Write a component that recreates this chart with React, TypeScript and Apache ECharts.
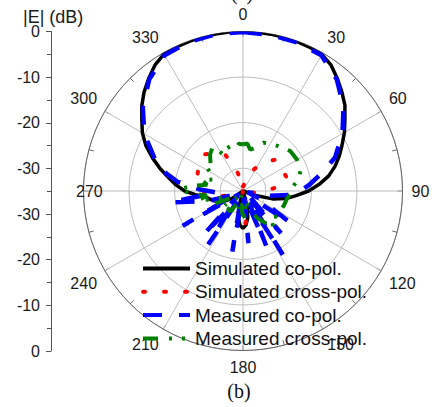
import React, { useEffect, useRef } from 'react';
import * as echarts from 'echarts';

// ---------- data (angle in degrees, |E| in dB) ----------
const simCoAngles = [0,5,10,15,20,25,30,35,40,45,50,55,60,65,70,75,80,85,90,95,100,105,110,115,120,130,140,150,160,165,170,175,180,185,190,195,200,210,220,230,235,240,245,250,255,260,265,270,275,280,285,290,295,300,305,310,315,320,325,330,335,340,345,350,355,360];
const simCoValues = [0,0,-0.05,-0.1,-0.15,-0.25,-0.4,-1.3,-2.8,-4.3,-5.8,-7.7,-9.3,-11,-12.5,-14.1,-15.9,-18.2,-20.6,-23.3,-25.4,-28.3,-32.3,-35,-35,-35,-35,-35,-35,-31.5,-29,-27.5,-26.8,-27.5,-29,-31.5,-35,-35,-35,-35,-32.5,-30.8,-29.5,-28.5,-27.7,-26.9,-24.8,-22.2,-20.3,-18.5,-16.2,-13.9,-11.5,-9.5,-7.9,-6,-4.3,-2.8,-1.3,-0.3,-0.2,-0.1,0,0,0,0];

const simCrossAngles = [0,10,17,25,30,40,46,55,65,74,82,90,98,105,115,160,168,175,181,187,194,202,240,250,260,267,275,285,294,305,314,324,334,344,352,360];
const simCrossValues = [-34,-33.5,-33.5,-30,-29,-26.5,-25.1,-25,-25.2,-24.9,-26.5,-30,-32,-34,-35,-35,-31,-28,-27.2,-28,-31,-35,-35,-32,-28.5,-26.7,-25.5,-24.5,-24.2,-23.8,-23.4,-24.8,-26.1,-30.9,-33,-34];

const measCoAngles = [0,10,20,30,40,50,60,70,78,85,90,95,100,105,114,124,131,138,143,148,153,157,165,174,182,190,200,213,217,222,230,240,247,254,261,267,272,278,283,290,300,310,320,330,340,350,360];
const measCoValues = [-0.1,-0.2,-0.3,-0.6,-3,-6.2,-9.8,-13.5,-17.7,-20.5,-22.5,-25,-29,-34,-31,-22.5,-33,-22.5,-33,-18.5,-32,-22,-34,-23.5,-34,-21.5,-34,-21,-31,-22,-34,-19.7,-33,-27,-18.8,-29,-25.6,-20.5,-17.6,-14.4,-10,-6.3,-3,-0.6,-0.2,-0.1,-0.1];

const measCrossAngles = [0,5,10,17,23,30,40,50,60,70,78,85,92,100,110,118,126,134,140,147,153,160,168,175,182,188,195,202,210,218,225,232,240,246,252,258,263,268,272,276,280,285,291,298,305,310,318,326,332,338,344,350,355,360];
const measCrossValues = [-24.8,-24.5,-25.8,-25,-23.5,-23,-22.3,-21.4,-21.3,-21.5,-22.6,-24,-24.5,-25.2,-25.5,-25.8,-25.5,-26.7,-24.5,-27,-28.5,-31,-33,-29,-30,-33,-31,-34,-30,-29.6,-33,-30,-32,-28,-30,-25,-27,-23,-21.2,-24,-27,-25.5,-28,-27,-25,-25.7,-24.2,-23.2,-26,-25,-24.8,-25.5,-24.6,-24.8];

const seriesNames = ['Simulated co-pol.', 'Simulated cross-pol.', 'Measured co-pol.', 'Measured cross-pol.'];
const leftTickLabels = ['0', '-10', '-20', '-30', '-30', '-20', '-10', '0'];

const FONT = "'Liberation Sans', Arial, sans-serif";
const SERIF = "'Liberation Serif', 'Times New Roman', serif";

export default function App() {
  const ref = useRef<HTMLDivElement>(null);
  useEffect(() => {
    const chart = echarts.init(ref.current as HTMLDivElement, null, { renderer: 'svg' });
    const pair = (a: number[], v: number[]) => a.map((t, i) => [v[i], t]);
    chart.setOption({
      animation: false,
      backgroundColor: '#ffffff',
      polar: { center: [243, 191], radius: 159.5 },
      angleAxis: {
        type: 'value', min: 0, max: 360, interval: 30, startAngle: 90, clockwise: true,
        axisLine: { show: true, lineStyle: { color: '#666', width: 1 } },
        axisTick: { show: true, inside: true, length: 5, lineStyle: { color: '#666' } },
        minorTick: { show: true, splitNumber: 2, length: 5, lineStyle: { color: '#666' } },
        splitLine: { show: true, lineStyle: { color: '#bdbdbd', width: 1 } },
        axisLabel: { show: true, margin: 9, fontSize: 16, color: '#1a1a1a', fontFamily: FONT,
          formatter: (v: number) => (v === 270 ? '' : String(v)) },
      },
      radiusAxis: {
        type: 'value', min: -35, max: 0, interval: 5,
        axisLine: { show: false }, axisTick: { show: false }, axisLabel: { show: false },
        splitLine: { show: true, lineStyle: { color: ['rgba(0,0,0,0)', '#bdbdbd'], width: 1 } },
      },
      grid: { left: 51, top: 31.5, width: 1, height: 319.5, outerBoundsMode: 'none', containLabel: false },
      xAxis: { type: 'value', show: false, gridIndex: 0 },
      yAxis: {
        type: 'value', gridIndex: 0, min: 0, max: 70, interval: 10, inverse: true, position: 'left',
        axisLine: { show: true, lineStyle: { color: '#555', width: 1 } },
        axisTick: { show: true, length: 5, lineStyle: { color: '#555' } },
        minorTick: { show: true, splitNumber: 2, length: 4, lineStyle: { color: '#555' } },
        splitLine: { show: false },
        axisLabel: { margin: 11, fontSize: 16, color: '#1a1a1a', fontFamily: FONT,
          formatter: (v: number) => leftTickLabels[Math.round(v / 10)] },
      },
      legend: {
        orient: 'vertical', left: 141, top: 259, padding: 0, itemGap: 4.3,
        itemWidth: 47, itemHeight: 14,
        textStyle: { fontSize: 19, color: '#111', fontFamily: FONT, lineHeight: 19 },
        lineStyle: { width: 4 },
        itemStyle: { opacity: 0, borderWidth: 0 },
        data: seriesNames,
      },
      series: [
        { name: seriesNames[0], type: 'line', coordinateSystem: 'polar', symbol: 'none',
          lineStyle: { color: '#000', width: 3.5 }, itemStyle: { color: '#000' },
          data: pair(simCoAngles, simCoValues), z: 2 },
        { name: seriesNames[1], type: 'line', coordinateSystem: 'polar', symbol: 'none',
          lineStyle: { color: '#ff0000', width: 4, type: [2, 19], cap: 'round' }, itemStyle: { color: '#ff0000' },
          data: pair(simCrossAngles, simCrossValues), z: 3 },
        { name: seriesNames[2], type: 'line', coordinateSystem: 'polar', symbol: 'none',
          lineStyle: { color: '#0000ff', width: 4.5, type: [19, 17] }, itemStyle: { color: '#0000ff' },
          data: pair(measCoAngles, measCoValues), z: 4 },
        { name: seriesNames[3], type: 'line', coordinateSystem: 'polar', symbol: 'none',
          lineStyle: { color: '#008000', width: 4, type: [15, 11, 3, 10, 3, 10] }, itemStyle: { color: '#008000' },
          data: pair(measCrossAngles, measCrossValues), z: 5 },
      ],
      graphic: [
        { type: 'text', left: 23, top: 8, style: { text: '|E| (dB)', fontSize: 18, fontFamily: FONT, fill: '#1a1a1a' } },
        { type: 'text', left: 76, top: 183, z: 10, style: { text: '270', fontSize: 16, fontFamily: FONT, fill: '#1a1a1a' } },
        { type: 'text', x: 239, y: 391, style: { text: '(b)', fontSize: 20, fontFamily: SERIF, fill: '#111', align: 'center', verticalAlign: 'middle' } },
        { type: 'text', x: 242, y: -7, style: { text: '(a)', fontSize: 20, fontFamily: SERIF, fill: '#111', align: 'center', verticalAlign: 'middle' } },
      ],
    });
    return () => chart.dispose();
  }, []);
  return <div ref={ref} style={{ position: 'fixed', left: 0, top: 0, width: 435, height: 407, background: '#fff' }} />;
}
